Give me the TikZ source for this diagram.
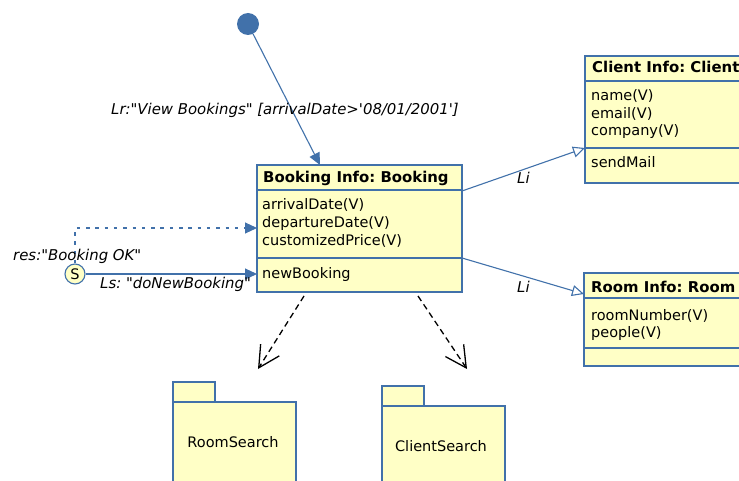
\documentclass[tikz,border=0pt]{standalone}
\usepackage{fontspec}
\setmainfont{DejaVu Sans}[Ligatures=TeXOff]
\usetikzlibrary{arrows.meta,calc}
\definecolor{umlblue}{RGB}{65,113,170}
\definecolor{umlfill}{RGB}{255,255,198}
\begin{document}
\frenchspacing
\begin{tikzpicture}[x=1pt,y=-1pt,
  font=\fontsize{14.5}{17.5}\selectfont,
  box/.style={draw=umlblue, fill=umlfill, line width=1.2pt, anchor=north west, inner sep=0pt, outer sep=0pt},
  divider/.style={draw=umlblue, line width=1.2pt},
  txt/.style={anchor=base west, inner sep=0pt},
  hdr/.style={txt, font=\fontsize{14.9}{17.5}\selectfont\bfseries},
  lbl/.style={anchor=base west, inner sep=0pt, font=\fontsize{14.9}{17.5}\selectfont\itshape},
  flow/.style={draw=umlblue, line width=1.1pt, -{Triangle[length=12pt,width=11pt]}},
  retflow/.style={draw=umlblue, line width=1.1pt, dash pattern=on 3.5pt off 5.8pt, -{Triangle[length=12pt,width=11pt]}},
  link/.style={draw=umlblue, line width=1.1pt, -{Triangle[open,length=12pt,width=11pt,fill=white]}},
  dep/.style={draw=black, line width=1.3pt, dash pattern=on 6pt off 4pt, -{Straight Barb[length=21pt,width=22pt]}},
]
\useasboundingbox (0,0) rectangle (739,481);

% initial state
\node[circle, fill=umlblue, minimum size=22pt, inner sep=0pt] (init) at (248,24) {};

% Booking class
\node[box, minimum width=205pt, minimum height=127pt] (booking) at (257,165) {};
\draw[divider] ($(booking.north west)+(0,25)$) -- ($(booking.north east)+(0,25)$);
\draw[divider] ($(booking.north west)+(0,93)$) -- ($(booking.north east)+(0,93)$);
\node[hdr] (bookingh) at (263,183) {Booking Info: Booking};
\node[txt] (ba1) at (262,210) {arrivalDate(V)};
\node[txt] (ba2) at (262,227.5) {departureDate(V)};
\node[txt] (ba3) at (262,245) {customizedPrice(V)};
\node[txt] (bm1) at (262,278) {newBooking};

% Client class
\node[box, minimum width=170pt, minimum height=127pt] (client) at (585,56) {};
\draw[divider] ($(client.north west)+(0,25)$) -- ($(client.north east)+(0,25)$);
\draw[divider] ($(client.north west)+(0,92)$) -- ($(client.north east)+(0,92)$);
\node[hdr] (clienth) at (592,73) {Client Info: Client};
\node[txt] (ca1) at (591,101) {name(V)};
\node[txt] (ca2) at (591,118.5) {email(V)};
\node[txt] (ca3) at (591,136) {company(V)};
\node[txt] (cm1) at (591,168) {sendMail};

% Room class
\node[box, minimum width=170pt, minimum height=93pt] (room) at (584,273) {};
\draw[divider] ($(room.north west)+(0,25)$) -- ($(room.north east)+(0,25)$);
\draw[divider] ($(room.north west)+(0,75)$) -- ($(room.north east)+(0,75)$);
\node[hdr] (roomh) at (591,292) {Room Info: Room};
\node[txt] (ra1) at (591,320) {roomNumber(V)};
\node[txt] (ra2) at (591,337.5) {people(V)};

% S (service) node
\node[circle, draw=umlblue, fill=umlfill, line width=1.1pt, minimum size=20pt, inner sep=0pt] (svc) at (75,274) {S};
\coordinate (retcorner) at (75,228);

% packages
\node[box, minimum width=42pt, minimum height=20pt] (rstab) at (173,382) {};
\node[box, minimum width=123pt, minimum height=90pt] (rs) at (173,402) {};
\node (rslbl) at (233,442) {RoomSearch};
\node[box, minimum width=42pt, minimum height=20pt] (cstab) at (382,386) {};
\node[box, minimum width=123pt, minimum height=90pt] (cs) at (382,406) {};
\node (cslbl) at (441,446) {ClientSearch};

% connectors
\draw[flow] (init) -- ($(booking.north west)+(63,0)$);
\node[lbl] (lr) at (111,115) {Lr:"View Bookings" [arrivalDate>'08/01/2001']};

\draw[flow] (svc) -- ($(booking.north west)+(0,109)$);
\node[lbl] (ls) at (100,288) {Ls: "doNewBooking"};

\draw[retflow] (svc.north) -- (retcorner) -- ($(booking.north west)+(0,63)$);
\node[lbl] (res) at (13,261) {res:"Booking OK"};

\draw[link] ($(booking.north east)+(0,26)$) -- ($(client.north west)+(0,92)$);
\node[lbl] (li1) at (517,184) {Li};
\draw[link] ($(booking.north east)+(0,93)$) -- ($(room.north west)+(0,21)$);
\node[lbl] (li2) at (517,292) {Li};

\draw[dep] ($(booking.south west)+(47,4)$) -- (258,369);
\draw[dep] ($(booking.south west)+(161,4)$) -- (467,369);
\end{tikzpicture}
\end{document}
